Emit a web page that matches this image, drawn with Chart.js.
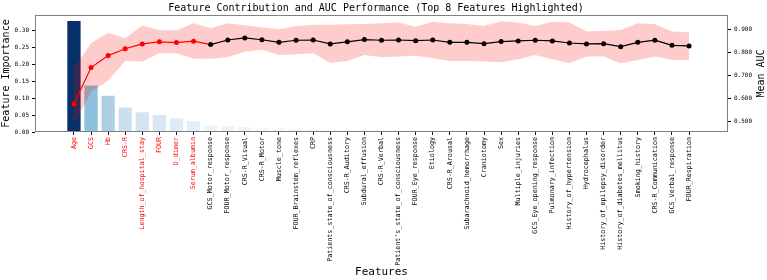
<!DOCTYPE html>
<html>
<head>
<meta charset="utf-8">
<script src="https://cdn.jsdelivr.net/npm/chart.js@4.4.1/dist/chart.umd.min.js"></script>
<style>
  html, body { margin: 0; padding: 0; background: #fff; }
  #wrap { width: 767px; height: 280px; }
</style>
</head>
<body>
<div id="wrap"><canvas id="chart"></canvas></div>
<script>
// Data

const features = ["Age", "GCS", "Hb", "CRS-R", "Length_of_hospital_stay", "FOUR", "D_dimer", "Serum_albumin",
  "GCS_Motor_response", "FOUR_Motor_response", "CRS-R_Visual", "CRS-R_Motor", "Muscle_tone",
  "FOUR_Brainstem_reflexes", "CRP", "Patients_state_of_consciousness", "CRS-R_Auditory", "Subdural_effusion",
  "CRS-R_Verbal", "Patient's_state_of_consciousness", "FOUR_Eye_response", "Etiology", "CRS-R_Arousal",
  "Subarachnoid_hemorrhage", "Craniotomy", "Sex", "Multiple_injuries", "GCS_Eye_opening_response",
  "Pulmonary_infection", "History_of_hypertension", "Hydrocephalus", "History_of_epilepsy_disorder",
  "History_of_diabetes_mellitus", "Smoking_history", "CRS-R_Communication", "GCS_Verbal_response",
  "FOUR_Respiration"];

const importance = [0.327, 0.137, 0.107, 0.072, 0.058, 0.050, 0.040, 0.032, 0.019, 0.018, 0.015, 0.011,
  0.011, 0.010, 0.009, 0.008, 0.007, 0.007, 0.006, 0.005, 0.005, 0.004, 0.004, 0.004, 0.003, 0.003, 0.003,
  0.003, 0.002, 0.002, 0.002, 0.002, 0.002, 0.001, 0.001, 0.001, 0.001];

const aucMean = [0.577, 0.736, 0.788, 0.818, 0.839, 0.848, 0.845, 0.851, 0.836, 0.856, 0.865, 0.857,
  0.846, 0.855, 0.856, 0.839, 0.848, 0.858, 0.855, 0.856, 0.853, 0.856, 0.846, 0.846, 0.840, 0.849, 0.852,
  0.855, 0.852, 0.843, 0.839, 0.840, 0.827, 0.846, 0.855, 0.833, 0.830];

const aucUpper = [0.735, 0.842, 0.888, 0.864, 0.919, 0.898, 0.898, 0.929, 0.907, 0.929, 0.920, 0.912,
  0.903, 0.917, 0.922, 0.922, 0.925, 0.926, 0.929, 0.932, 0.914, 0.936, 0.929, 0.926, 0.917, 0.938, 0.932,
  0.917, 0.936, 0.932, 0.893, 0.896, 0.900, 0.929, 0.926, 0.893, 0.890];

const aucLower = [0.486, 0.630, 0.678, 0.765, 0.762, 0.798, 0.798, 0.774, 0.774, 0.781, 0.805, 0.813,
  0.791, 0.794, 0.798, 0.757, 0.765, 0.791, 0.781, 0.784, 0.787, 0.776, 0.765, 0.765, 0.762, 0.759, 0.772,
  0.791, 0.772, 0.755, 0.784, 0.784, 0.755, 0.769, 0.784, 0.769, 0.769];

const impTicks = [0, 0.05, 0.10, 0.15, 0.20, 0.25, 0.30];
const aucTicks = [0.5, 0.6, 0.7, 0.8, 0.9];
const topN = 8;

// Helpers

const MONO = '"DejaVu Sans Mono", monospace';

// matplotlib "Blues" stops
const bluesStops = ['#f7fbff', '#deebf7', '#c6dbef', '#9ecae1', '#6baed6', '#4292c6', '#2171b5', '#08519c', '#08306b'];

function blues(t) {
    t = Math.max(0, Math.min(1, t));
    const pos = t * (bluesStops.length - 1);
    const i = Math.min(Math.floor(pos), bluesStops.length - 2);
    const f = pos - i;
    const a = parseInt(bluesStops[i].slice(1), 16), b = parseInt(bluesStops[i + 1].slice(1), 16);
    const ch = (c, s) => (c >> s) & 255;
    const mix = s => Math.round(ch(a, s) + (ch(b, s) - ch(a, s)) * f);
    return `rgb(${mix(16)},${mix(8)},${mix(0)})`;
}

const maxImp = Math.max(...importance);
const xy = arr => arr.map((v, i) => ({x: i, y: v}));

// frame around the plot + right axis title (reads bottom-to-top like the left one)
const framePlugin = {
    id: 'frame',
    afterDraw(chart) {
        const {ctx, chartArea: a} = chart;
        ctx.save();
        ctx.strokeStyle = '#808080';
        ctx.lineWidth = 1;
        ctx.strokeRect(a.left + 0.5, a.top + 0.5, a.right - a.left - 1, a.bottom - a.top - 1);

        ctx.font = `10px ${MONO}`;
        ctx.fillStyle = '#000';
        ctx.textAlign = 'center';
        ctx.textBaseline = 'middle';
        ctx.translate(chart.scales.y1.right + 9, (a.top + a.bottom) / 2);
        ctx.rotate(-Math.PI / 2);
        ctx.fillText('Mean AUC', 0, 0);
        ctx.restore();
    }
};

// Chart

const canvas = document.getElementById('chart');

let chart = new Chart(canvas, {
    type: 'bar',
    data: {
        datasets: [{
            type: 'bar',
            data: xy(importance),
            backgroundColor: importance.map(v => blues(v / maxImp)),
            borderWidth: 0,
            barPercentage: 0.78,
            categoryPercentage: 1,
            yAxisID: 'y',
            order: 3
        }, {
            type: 'line',
            data: xy(aucUpper),
            yAxisID: 'y1',
            borderWidth: 0,
            pointRadius: 0,
            backgroundColor: 'rgba(255,0,0,0.2)',
            fill: '+1',
            order: 2
        }, {
            type: 'line',
            data: xy(aucLower),
            yAxisID: 'y1',
            borderWidth: 0,
            pointRadius: 0,
            fill: false,
            order: 2
        }, {
            type: 'line',
            data: xy(aucMean),
            yAxisID: 'y1',
            borderWidth: 1.2,
            borderColor: '#000',
            segment: {
                borderColor: ctx => ctx.p0DataIndex < topN ? '#ff0000' : '#000'
            },
            pointRadius: 2.5,
            pointBorderWidth: 0,
            pointBackgroundColor: aucMean.map((_, i) => i < topN ? '#ff0000' : '#000'),
            fill: false,
            order: 1
        }]
    },
    options: {
        responsive: true,
        maintainAspectRatio: false,
        animation: false,
        devicePixelRatio: 1,
        layout: {
            padding: {left: 0, right: 15, top: 0, bottom: 0}
        },
        plugins: {
            legend: {display: false},
            tooltip: {enabled: false},
            title: {
                display: true,
                text: 'Feature Contribution and AUC Performance (Top 8 Features Highlighted)',
                color: '#000',
                font: {family: MONO, size: 10, weight: 'normal'},
                padding: {top: 2, bottom: 1}
            }
        },
        scales: {
            x: {
                type: 'linear',
                min: -2.28,
                max: 38.28,
                offset: false,
                afterBuildTicks: s => { s.ticks = features.map((_, i) => ({value: i})); },
                afterFit: s => { s.height = 148; },
                ticks: {
                    autoSkip: false,
                    minRotation: 90,
                    maxRotation: 90,
                    padding: 2,
                    callback: (v, i) => features[i],
                    color: ctx => ctx.index < topN ? '#ff0000' : '#000',
                    font: {family: MONO, size: 6.7}
                },
                grid: {drawOnChartArea: false, offset: false, tickLength: 3, tickColor: '#000'},
                border: {display: false},
                title: {
                    display: true,
                    text: 'Features',
                    color: '#000',
                    font: {family: MONO, size: 11},
                    padding: {top: 1, bottom: 1}
                }
            },
            y: {
                position: 'left',
                min: 0,
                max: 0.345,
                afterBuildTicks: s => { s.ticks = impTicks.map(v => ({value: v})); },
                afterFit: s => { s.width = 35; },
                ticks: {
                    padding: 3,
                    color: '#000',
                    callback: v => v.toFixed(2),
                    font: {family: MONO, size: 6}
                },
                grid: {drawOnChartArea: false, tickLength: 3, tickColor: '#000'},
                border: {display: false},
                title: {
                    display: true,
                    text: 'Feature Importance',
                    color: '#000',
                    font: {family: MONO, size: 10},
                    padding: {top: 0, bottom: 2}
                }
            },
            y1: {
                position: 'right',
                min: 0.455,
                max: 0.965,
                afterBuildTicks: s => { s.ticks = aucTicks.map(v => ({value: v})); },
                afterFit: s => { s.width = 24; },
                ticks: {
                    padding: 3,
                    color: '#000',
                    callback: v => v.toFixed(3),
                    font: {family: MONO, size: 6}
                },
                grid: {drawOnChartArea: false, tickLength: 3, tickColor: '#000'},
                border: {display: false}
            }
        }
    },
    plugins: [framePlugin]
});
</script>
</body>
</html>
